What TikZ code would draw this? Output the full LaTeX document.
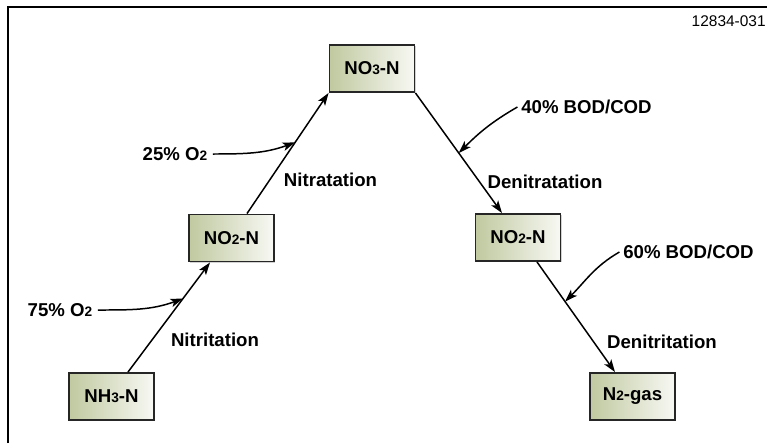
\documentclass[tikz,border=0pt]{standalone}
\usepackage{fontspec}
\setmainfont{Liberation Sans}
\usetikzlibrary{arrows.meta,shadows}
\definecolor{boxgreen}{RGB}{192,201,160}
\newcommand{\smallnum}[1]{{\fontsize{7.8}{8}\selectfont #1}}
\begin{document}
\begin{tikzpicture}[x=0.02cm,y=-0.02cm,
    species/.style={draw=black!85, line width=1.1pt, left color=boxgreen, right color=boxgreen!12,
        minimum width=1.7cm, minimum height=0.94cm, inner sep=0pt,
        drop shadow={shadow xshift=0.6pt, shadow yshift=-0.6pt, fill=black!35},
        font=\fontsize{10.6}{12}\selectfont\bfseries},
    lbl/.style={font=\fontsize{10.6}{12}\selectfont\bfseries, inner sep=0pt},
    flow/.style={line width=0.85pt, -{Stealth[length=2.5mm, width=1.7mm, inset=0.6mm]}}]
    \useasboundingbox (0,0) rectangle (767,443);

    % frame
    \draw[line width=1.4pt] (8,443) -- (8,7) -- (767,7);
    \node[anchor=east, inner sep=0pt, font=\fontsize{8.8}{10}\selectfont] (code) at (766,21) {12834-031};

    \node[species] (nh3) at (111.5,396.5) {NH\smallnum{3}-N};
    \node[species] (no2a) at (231.5,238) {NO\smallnum{2}-N};
    \node[species] (no3) at (372,68.5) {NO\smallnum{3}-N};
    \node[species] (no2b) at (518,237.5) {NO\smallnum{2}-N};
    \node[species] (n2) at (632.5,396.5) {N\smallnum{2}-gas};

    \draw[flow] ([xshift=0.33cm]nh3.north) -- coordinate[pos=0.67] (m1) ([xshift=-0.43cm]no2a.south);
    \draw[flow] ([xshift=0.31cm]no2a.north) -- coordinate[pos=0.59] (m2) (no3.south west);
    \draw[flow] (no3.south east) -- coordinate[pos=0.5] (m3) ([xshift=-0.32cm]no2b.north);
    \draw[flow] ([xshift=0.38cm]no2b.south) -- coordinate[pos=0.36] (m4) ([xshift=-0.35cm]n2.north);

    \node[lbl] (o2a) at (60,310) {75\% O\smallnum{2}};
    \node[lbl] (o2b) at (175,154) {25\% O\smallnum{2}};
    \node[lbl] (boda) at (586.5,107) {40\% BOD/COD};
    \node[lbl] (bodb) at (688.5,252) {60\% BOD/COD};

    \draw[flow] ([xshift=3pt]o2a.east) to[out=0, in=200] (m1);
    \draw[flow] ([xshift=3pt]o2b.east) to[out=0, in=200] (m2);
    \draw[flow] ([xshift=-2pt]boda.west) to[out=210, in=45] (m3);
    \draw[flow] ([xshift=-2pt]bodb.west) to[out=210, in=45] (m4);

    \node[lbl] (nitri) at (215,340) {Nitritation};
    \node[lbl] (nitra) at (330.5,180) {Nitratation};
    \node[lbl] (denitra) at (545,182) {Denitratation};
    \node[lbl] (denitri) at (662,342) {Denitritation};
\end{tikzpicture}
\end{document}
